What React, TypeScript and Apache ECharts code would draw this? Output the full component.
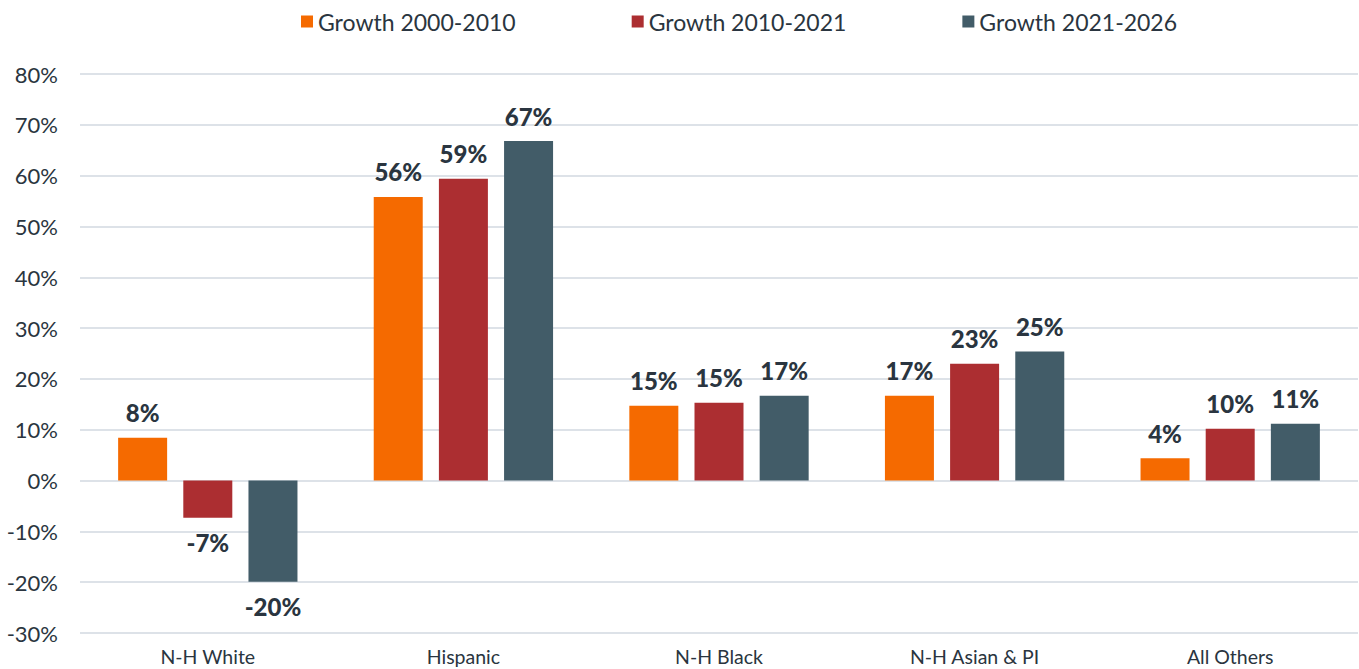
import React, { useEffect, useRef } from "react";
import * as echarts from "echarts";

const categories = ["N-H White", "Hispanic", "N-H Black", "N-H Asian & PI", "All Others"];
const seriesNames = ["Growth 2000-2010", "Growth 2010-2021", "Growth 2021-2026"];
const growth2000_2010 = [8.4, 55.8, 14.7, 16.7, 4.4];
const growth2010_2021 = [-7.3, 59.4, 15.3, 23.0, 10.2];
const growth2021_2026 = [-19.9, 66.8, 16.7, 25.4, 11.2];
const colors = ["#f56a00", "#ac2e31", "#425c68"];
const yTicks = { min: -30, max: 80, interval: 10 };

const FONT = "Lato";
const TEXT = "#2a3540";

export default function App() {
  const ref = useRef<HTMLDivElement>(null);
  useEffect(() => {
    if (!ref.current) return;
    const chart = echarts.init(ref.current, null, { renderer: "svg" });
    const all = [growth2000_2010, growth2010_2021, growth2021_2026];
    chart.setOption({
      animation: false,
      textStyle: { fontFamily: FONT },
      legend: {
        top: 5,
        left: 296,
        itemWidth: 12,
        itemHeight: 12,
        itemGap: 116,
        icon: "rect",
        textStyle: { fontFamily: FONT, fontSize: 23, color: TEXT },
        data: seriesNames,
      },
      grid: { left: 80, right: 1, top: 74, bottom: 36, containLabel: false },
      xAxis: {
        type: "category",
        data: categories,
        axisLine: { show: false },
        axisTick: { show: false },
        axisLabel: { fontFamily: FONT, fontSize: 19.5, color: TEXT, margin: 13 },
      },
      yAxis: {
        type: "value",
        min: yTicks.min,
        max: yTicks.max,
        interval: yTicks.interval,
        axisLine: { show: false },
        axisTick: { show: false },
        axisLabel: {
          fontFamily: FONT,
          fontSize: 22,
          color: TEXT,
          margin: 22,
          formatter: (v: number) => `${v}%`,
        },
        splitLine: { lineStyle: { color: "#dde2e8", width: 2 } },
      },
      series: all.map((arr, i) => ({
        name: seriesNames[i],
        type: "bar",
        barWidth: 49,
        barGap: "33%",
        itemStyle: { color: colors[i] },
        label: {
          show: true,
          position: "top",
          distance: 13,
          fontFamily: FONT,
          fontSize: 24,
          fontWeight: 900,
          color: TEXT,
          formatter: (p: any) => `${Math.round(p.value)}%`,
        },
        data: arr.map((v) =>
          v < 0 ? { value: v, label: { position: "bottom" } } : v
        ),
      })),
    });
    return () => chart.dispose();
  }, []);
  return (
    <div
      ref={ref}
      style={{ position: "absolute", left: 0, top: 0, width: 1359, height: 669 }}
    />
  );
}
